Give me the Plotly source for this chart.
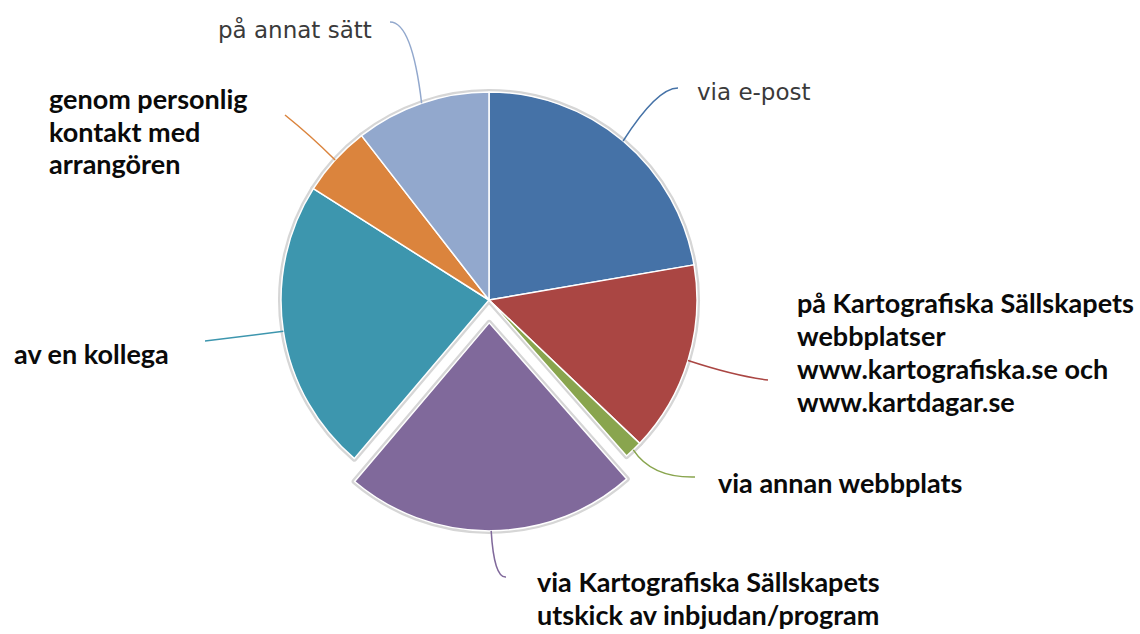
import math
import plotly.graph_objects as go

# ---------------- data ----------------
categories = [
    "via e-post",
    "på Kartografiska Sällskapets webbplatser www.kartografiska.se och www.kartdagar.se",
    "via annan webbplats",
    "via Kartografiska Sällskapets utskick av inbjudan/program",
    "av en kollega",
    "genom personlig kontakt med arrangören",
    "på annat sätt",
]
values = [22.3, 14.8, 1.4, 22.7, 22.8, 5.5, 10.5]
label_lines = [
    ["via e-post"],
    ["på Kartografiska Sällskapets", "webbplatser", "www.kartografiska.se och", "www.kartdagar.se"],
    ["via annan webbplats"],
    ["via Kartografiska Sällskapets", "utskick av inbjudan/program"],
    ["av en kollega"],
    ["genom personlig", "kontakt med", "arrangören"],
    ["på annat sätt"],
]
label_kinds = ["light", "bold", "bold", "bold", "bold", "bold", "light"]
colors = ["#4572A7", "#AA4643", "#89A54E", "#80699B", "#3D96AE", "#DB843D", "#92A8CD"]
pulls = [0, 0, 0, 0.11, 0, 0, 0]

# ---------------- layout (pixels) ----------------
W, H = 1140, 634
CX, CY, R = 489, 300, 208
maxpull = max(pulls)
half = R * (1 + maxpull)
LINE_PITCH = 33

# per label: text anchor (left, middle of block), leader end, leader control point
label_layout = [
    dict(tx=695, ty=92, ex=678, ey=88, qx=657, qy=88),
    dict(tx=795, ty=352, ex=768, ey=380, qx=735, qy=376),
    dict(tx=716, ty=482, ex=695, ey=477, qx=652, qy=478),
    dict(tx=535, ty=598, ex=506, ey=577, qx=494, qy=578),
    dict(tx=12, ty=353, ex=205, ey=341, qx=245, qy=336),
    dict(tx=47, ty=131, ex=285, ey=115, qx=310, qy=135),
    dict(tx=216, ty=29, ex=390, ey=22, qx=412, qy=22),
]


def px(x):
    return x / W


def py(y):
    return 1 - y / H


domain = dict(x=[px(CX - half), px(CX + half)], y=[py(CY + half), py(CY - half)])

fig = go.Figure()
# soft grey outline / shadow behind the slices
fig.add_trace(go.Pie(
    values=values, labels=categories, sort=False, direction="clockwise", rotation=0,
    pull=pulls, domain=domain, textinfo="none", hoverinfo="skip", showlegend=False,
    marker=dict(colors=["#d9d9d9"] * len(values), line=dict(color="#d6d6d6", width=6)),
))
fig.add_trace(go.Pie(
    values=values, labels=categories, sort=False, direction="clockwise", rotation=0,
    pull=pulls, domain=domain, textinfo="none", showlegend=False,
    marker=dict(colors=colors, line=dict(color="white", width=1.5)),
))

total = sum(values)
cum = 0.0
shapes = []
annotations = []
for i, v in enumerate(values):
    mid = (cum + v / 2) / total * 2 * math.pi
    cum += v
    off = pulls[i] * R
    sx = CX + (R + off) * math.sin(mid)
    sy = CY - (R + off) * math.cos(mid)
    L = label_layout[i]
    shapes.append(dict(
        type="path", xref="paper", yref="paper",
        path=f"M {px(sx)},{py(sy)} Q {px(L['qx'])},{py(L['qy'])} {px(L['ex'])},{py(L['ey'])}",
        line=dict(color=colors[i], width=1.5),
    ))
    if label_kinds[i] == "bold":
        font = dict(family="Lato", size=27, color="#0a0a0a", weight=700)
    else:
        font = dict(family="DejaVu Sans", size=23, color="#3a3a3a")
    lines = label_lines[i]
    n = len(lines)
    for j, line in enumerate(lines):
        yy = L["ty"] + (j - (n - 1) / 2) * LINE_PITCH
        annotations.append(dict(
            text=line, x=px(L["tx"]), y=py(yy), xref="paper", yref="paper",
            xanchor="left", yanchor="middle", align="left", showarrow=False, font=font,
        ))

fig.update_layout(
    width=W, height=H, margin=dict(l=0, r=0, t=0, b=0),
    paper_bgcolor="white", plot_bgcolor="white",
    shapes=shapes, annotations=annotations,
)
fig.write_html(
    "out.html",
    config={"displayModeBar": False},
    post_script="document.body.style.margin='0';document.body.style.overflow='hidden';",
)
